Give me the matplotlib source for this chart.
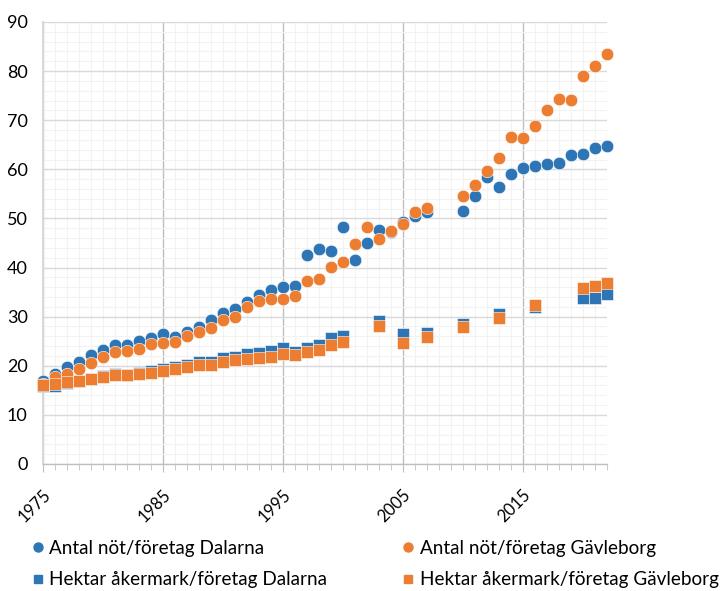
#!/usr/bin/env python3
#
# Cattle per farm and arable hectares per farm, Dalarna and Gavleborg
#
import numpy as np
import matplotlib
matplotlib.use('Agg')
import matplotlib.pyplot as plt
from matplotlib.ticker import MultipleLocator
from matplotlib.lines import Line2D
from matplotlib.transforms import ScaledTranslation

nan = np.nan

# Data
years = np.arange(1975, 2023)
not_dalarna = [
    17.0, 18.3, 19.7, 20.8, 22.1, 23.2, 24.2, 24.2, 25.1, 25.7,
    26.4, 25.8, 26.8, 27.8, 29.3, 30.7, 31.5, 32.9, 34.4, 35.4,
    36.0, 36.2, 42.6, 43.8, 43.4, 48.2, 41.5, 45.1, 47.6, 47.2,
    49.3, 50.4, 51.3, nan, nan, 51.5, 54.6, 58.4, 56.5, 59.0,
    60.2, 60.6, 61.1, 61.2, 63.0, 63.2, 64.3, 64.7,
]
not_gavleborg = [
    16.3, 17.8, 18.4, 19.3, 20.5, 21.7, 22.9, 23.0, 23.4, 24.4,
    24.7, 24.8, 26.1, 26.9, 27.6, 29.3, 30.0, 31.9, 33.2, 33.5,
    33.6, 34.2, 37.3, 37.6, 40.2, 41.1, 44.8, 48.2, 45.8, 47.4,
    48.9, 51.4, 52.1, nan, nan, 54.6, 56.9, 59.7, 62.4, 66.5,
    66.4, 68.9, 72.1, 74.3, 74.2, 79.1, 81.0, 83.5,
]
ha_dalarna = [
    15.8, 15.9, 16.4, 16.9, 17.4, 17.9, 18.3, 18.1, 18.5, 18.9,
    19.4, 19.7, 20.2, 20.7, 20.8, 21.6, 21.8, 22.4, 22.7, 23.1,
    23.6, 22.9, 23.7, 24.3, 25.7, 26.0, nan, nan, 29.1, nan,
    26.4, nan, 26.7, nan, nan, 28.6, nan, nan, 30.5, nan,
    nan, 32.0, nan, nan, nan, 33.7, 33.9, 34.6,
]
ha_gavleborg = [
    16.1, 16.3, 16.6, 16.9, 17.3, 17.8, 18.1, 18.1, 18.3, 18.6,
    18.9, 19.3, 19.7, 20.1, 20.2, 20.8, 21.2, 21.4, 21.5, 21.8,
    22.5, 22.2, 22.9, 23.2, 24.2, 24.8, nan, nan, 28.1, nan,
    24.6, nan, 25.8, nan, nan, 27.9, nan, nan, 29.7, nan,
    nan, 32.4, nan, nan, nan, 35.8, 36.2, 36.8,
]
labels = [
    'Antal nöt/företag Dalarna',
    'Antal nöt/företag Gävleborg',
    'Hektar åkermark/företag Dalarna',
    'Hektar åkermark/företag Gävleborg',
]
xticks = [1975, 1985, 1995, 2005, 2015]

blue = '#2E75B6'
orange = '#ED7D31'

plt.rcParams['font.family'] = ['Lato', 'DejaVu Sans']

fig = plt.figure(figsize=(7.2, 5.91), dpi=100)
ax = fig.add_axes([43 / 720, 1 - 464 / 591, (607 - 43) / 720, (464 - 22) / 591])

series = [
    (not_dalarna, blue, 'o', 9.0),
    (not_gavleborg, orange, 'o', 9.0),
    (ha_dalarna, blue, 's', 8.2),
    (ha_gavleborg, orange, 's', 8.2),
]
for i, (vals, color, marker, size) in enumerate(series):
    ax.plot(years, vals, linestyle='none', marker=marker, markersize=size,
            color=color, markeredgecolor='white', markeredgewidth=0.4,
            zorder=3 + i, clip_on=False)

ax.set_xlim(1975, 2022)
ax.set_ylim(0, 90)
ax.set_xticks(xticks)
ax.xaxis.set_minor_locator(MultipleLocator(1))
ax.yaxis.set_major_locator(MultipleLocator(10))
ax.yaxis.set_minor_locator(MultipleLocator(2))

ax.grid(which='minor', color='#F2F2F2', lw=0.8, zorder=0)
ax.grid(which='major', axis='y', color='#D9D9D9', lw=1.0, zorder=1)
ax.grid(which='major', axis='x', color='#BFBFBF', lw=1.0, zorder=1)
ax.set_axisbelow(True)

for s in ('top', 'right'):
    ax.spines[s].set_visible(False)
ax.spines['left'].set_color('#D9D9D9')
ax.spines['left'].set_linewidth(1.5)
ax.spines['bottom'].set_color('#BFBFBF')
ax.spines['bottom'].set_linewidth(1.0)

ax.tick_params(axis='y', which='both', length=0, pad=11, labelsize=13)
ax.tick_params(axis='x', which='major', length=6, color='#BFBFBF', pad=12.5,
               labelsize=12)
ax.tick_params(axis='x', which='minor', length=4, color='#BFBFBF')

# Nudge rotated year labels a few pixels right/down, like the original
shift = ScaledTranslation(5 / 100, -3 / 100, fig.dpi_scale_trans)
for lab in ax.get_xticklabels():
    lab.set_rotation(45)
    lab.set_ha('right')
    lab.set_va('center')
    lab.set_rotation_mode('anchor')
    lab.set_transform(lab.get_transform() + shift)

handles = []
for vals, color, marker, size in series:
    handles.append(Line2D([], [], linestyle='none', marker=marker,
                          markersize=size * 0.72, color=color))
order = [0, 2, 1, 3]
fig.legend([handles[i] for i in order], [labels[i] for i in order],
           loc='upper left', bbox_to_anchor=(32 / 720, 1 - 540 / 591), ncol=2,
           frameon=False, fontsize=13.6, handletextpad=0.3, handlelength=0.6,
           columnspacing=4.0, labelspacing=0.75, borderpad=0,
           borderaxespad=0)

fig.savefig('out.png', dpi=100)
